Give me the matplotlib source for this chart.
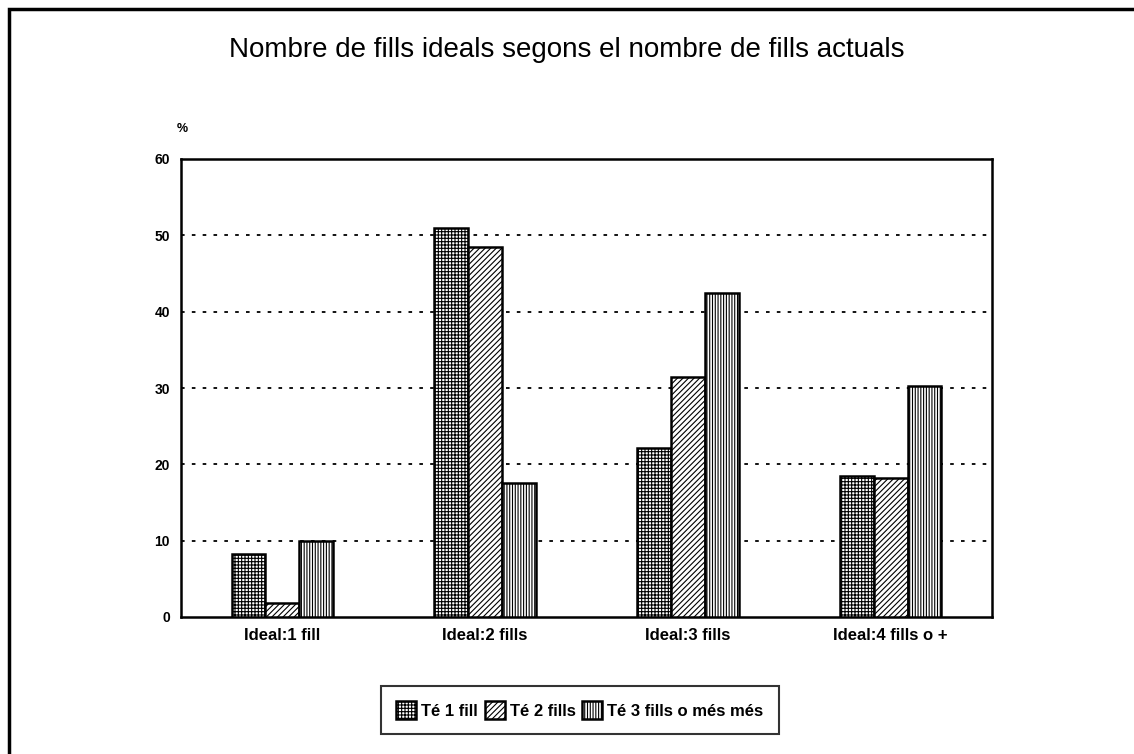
import numpy as np
import matplotlib.pyplot as plt
from matplotlib.patches import Rectangle

plt.rcParams['font.family'] = ['Liberation Sans', 'DejaVu Sans']
plt.rcParams['hatch.linewidth'] = 0.8

categories = ["Ideal:1 fill", "Ideal:2 fills", "Ideal:3 fills", "Ideal:4 fills o +"]
te_1_fill = [8.3, 51.0, 22.2, 18.5]
te_2_fills = [1.8, 48.5, 31.5, 18.2]
te_3_fills = [10.0, 17.5, 42.5, 30.2]
series_names = ["Té 1 fill", "Té 2 fills", "Té 3 fills o més més"]

fig = plt.figure(figsize=(11.34, 7.54), dpi=100)
ax = fig.add_axes([181 / 1134, 1 - 617 / 754, (992 - 181) / 1134, (617 - 159) / 754])

# outer frame (only left and top visible in the scan)
fig.patches.append(Rectangle((9 / 1134, -0.1), 1.2, 1 - 9 / 754 + 0.1,
                             transform=fig.transFigure, fill=False,
                             edgecolor='black', linewidth=2.5))

x = np.arange(len(categories))
w = 0.167
hatches = ['+++++', '//////', '||||||']
series = [te_1_fill, te_2_fills, te_3_fills]
for i, vals in enumerate(series):
    ax.bar(x + (i - 1) * w, vals, w, facecolor='white', edgecolor='black',
           hatch=hatches[i], linewidth=1.8, label=series_names[i], zorder=3)

ax.set_xlim(-0.5, 3.5)
ax.set_ylim(0, 60)
ax.set_yticks(range(0, 61, 10))
ax.set_yticklabels([str(v) for v in range(0, 61, 10)], fontsize=10, fontweight='bold')
ax.set_xticks(x)
ax.set_xticklabels(categories, fontsize=12, fontweight='bold')
ax.tick_params(axis='both', length=0, pad=8)
for yv in range(10, 60, 10):
    ax.axhline(yv, color='black', linestyle=(0, (2, 4)), linewidth=1.3, zorder=1)
for s in ax.spines.values():
    s.set_linewidth(1.8)

ax.text(-0.005, 1.06, '%', transform=ax.transAxes, fontsize=9, fontweight='bold')
fig.text(0.5, 1 - 50 / 754, 'Nombre de fills ideals segons el nombre de fills actuals',
         ha='center', va='center', fontsize=20)

leg = fig.legend(loc='center', bbox_to_anchor=(580 / 1134, 1 - 710 / 754), ncol=3,
                 prop={'size': 12, 'weight': 'bold'}, frameon=True, fancybox=False,
                 edgecolor='black', handlelength=1.2, handleheight=1.2,
                 handletextpad=0.3, columnspacing=0.4, borderpad=0.9)
leg.get_frame().set_linewidth(1.5)

fig.savefig('out.png', dpi=100)
